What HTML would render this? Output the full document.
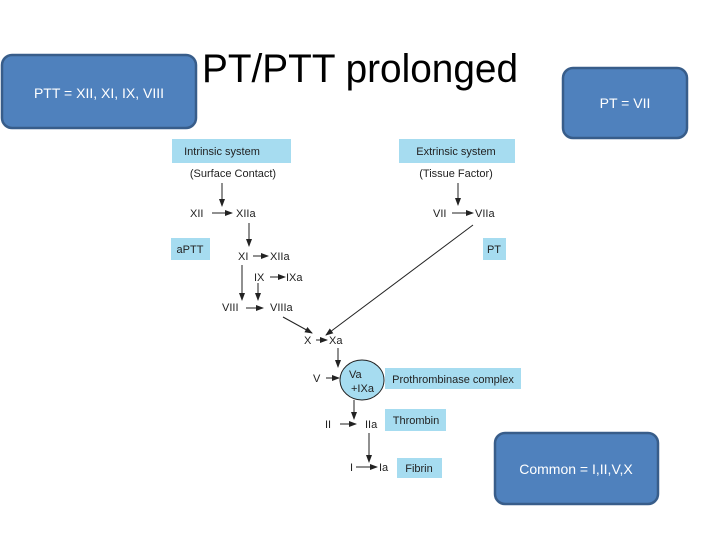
<!DOCTYPE html>
<html><head><meta charset="utf-8"><style>
html,body{margin:0;padding:0;background:#fff;}
svg{display:block;}
</style></head><body>
<svg width="720" height="540" viewBox="0 0 720 540" xmlns="http://www.w3.org/2000/svg" font-family="Liberation Sans, Arial, sans-serif">
<defs><marker id="a" markerWidth="8" markerHeight="6" refX="7" refY="3" orient="auto" markerUnits="userSpaceOnUse"><path d="M0,0 L8,3 L0,6 z" fill="#222"/></marker></defs>
<rect x="2" y="55" width="194" height="73" rx="10" fill="#4f81bd" stroke="#385d8a" stroke-width="2.5"/>
<text x="99" y="98" font-size="14" fill="#fff" text-anchor="middle">PTT = XII, XI, IX, VIII</text>
<rect x="563" y="68" width="124" height="70" rx="10" fill="#4f81bd" stroke="#385d8a" stroke-width="2.5"/>
<text x="625" y="108" font-size="14" fill="#fff" text-anchor="middle">PT = VII</text>
<rect x="495" y="433" width="163" height="71" rx="10" fill="#4f81bd" stroke="#385d8a" stroke-width="2.5"/>
<text x="576" y="474" font-size="14" fill="#fff" text-anchor="middle">Common = I,II,V,X</text>
<text x="360" y="82" font-size="40" fill="#000" text-anchor="middle" textLength="316" lengthAdjust="spacingAndGlyphs">PT/PTT prolonged</text>
<g font-size="11" fill="#222">
<rect x="172" y="139" width="119" height="24" fill="#a6dcf0"/>
<text x="222" y="155" text-anchor="middle">Intrinsic system</text>
<text x="233" y="177" text-anchor="middle">(Surface Contact)</text>
<rect x="399" y="139" width="116" height="24" fill="#a6dcf0"/>
<text x="456" y="155" text-anchor="middle">Extrinsic system</text>
<text x="456" y="177" text-anchor="middle">(Tissue Factor)</text>
<rect x="171" y="238" width="39" height="22" fill="#a6dcf0"/>
<text x="190" y="253" text-anchor="middle">aPTT</text>
<rect x="483" y="238" width="23" height="22" fill="#a6dcf0"/>
<text x="494" y="253" text-anchor="middle">PT</text>
<text x="190" y="217">XII</text><text x="236" y="217">XIIa</text>
<text x="433" y="217">VII</text><text x="475" y="217">VIIa</text>
<text x="238" y="260">XI</text><text x="270" y="260">XIIa</text>
<text x="254" y="281">IX</text><text x="286" y="281">IXa</text>
<text x="222" y="311">VIII</text><text x="270" y="311">VIIIa</text>
<text x="304" y="344">X</text><text x="329" y="344">Xa</text>
<text x="313" y="382">V</text>
<text x="325" y="428">II</text><text x="365" y="428">IIa</text>
<text x="350" y="471">I</text><text x="379" y="471">Ia</text>
<ellipse cx="362" cy="380" rx="22" ry="20" fill="#a6dcf0" stroke="#222" stroke-width="1"/>
<text x="349" y="378">Va</text><text x="351" y="392">+IXa</text>
<rect x="385" y="368" width="136" height="21" fill="#a6dcf0"/>
<text x="453" y="383" text-anchor="middle">Prothrombinase complex</text>
<rect x="385" y="409" width="61" height="22" fill="#a6dcf0"/>
<text x="416" y="424" text-anchor="middle">Thrombin</text>
<rect x="397" y="458" width="45" height="20" fill="#a6dcf0"/>
<text x="419" y="472" text-anchor="middle">Fibrin</text>
</g>
<g stroke="#222" stroke-width="1" marker-end="url(#a)">
<line x1="222" y1="183" x2="222" y2="206"/>
<line x1="212" y1="213" x2="232" y2="213"/>
<line x1="458" y1="183" x2="458" y2="205"/>
<line x1="452" y1="213" x2="473" y2="213"/>
<line x1="249" y1="223" x2="249" y2="246"/>
<line x1="253" y1="256" x2="268" y2="256"/>
<line x1="270" y1="277" x2="285" y2="277"/>
<line x1="242" y1="265" x2="242" y2="300"/>
<line x1="258" y1="283" x2="258" y2="300"/>
<line x1="246" y1="308" x2="263" y2="308"/>
<line x1="283" y1="317" x2="312" y2="333"/>
<line x1="473" y1="225" x2="326" y2="335"/>
<line x1="316" y1="340" x2="327" y2="340"/>
<line x1="338" y1="348" x2="338" y2="367"/>
<line x1="326" y1="378" x2="339" y2="378"/>
<line x1="354" y1="400" x2="354" y2="419"/>
<line x1="340" y1="424" x2="356" y2="424"/>
<line x1="369" y1="433" x2="369" y2="462"/>
<line x1="356" y1="467" x2="377" y2="467"/>
</g>
</svg>
</body></html>
